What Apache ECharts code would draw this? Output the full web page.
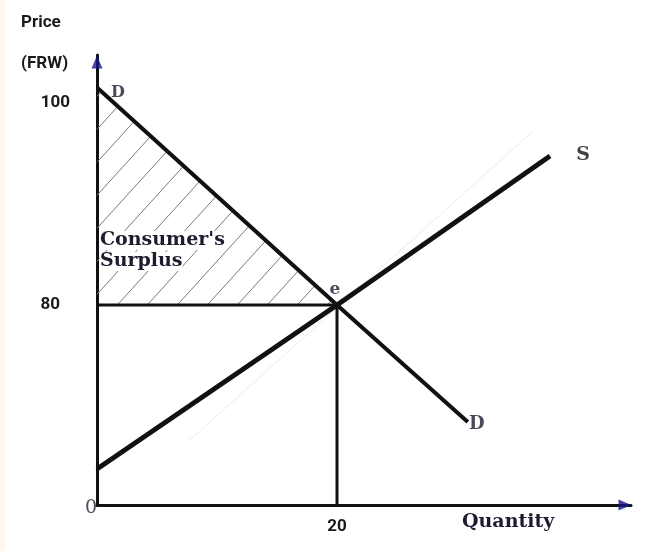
<!DOCTYPE html>
<html>
<head>
<meta charset="utf-8">
<script src="https://cdn.jsdelivr.net/npm/echarts@6/dist/echarts.min.js"></script>
<style>
html,body{margin:0;padding:0;background:#ffffff;}
#chart{width:645px;height:551px;}
</style>
</head>
<body>
<div id="chart"></div>
<script>
// Schematic diagram: quantity axis and (schematic) price axis in diagram units
const demandCurve = [[0, 167], [20, 80], [30.9, 33.2]];
const supplyCurve = [[0, 14.4], [20, 80], [37.75, 139.6]];
const equilibrium = [20, 80];
const faintGuide = [[7.75, 26], [36.25, 149.2]];
const quantityTickValues = [20];
const quantityTickLabels = ['20'];
const priceTickValues = [80, 161];
const priceTickLabels = ['80', '100'];
const xMax = 44.5;
const yMax = 180;

const serif = '"DejaVu Serif", "Liberation Serif", serif';
const sans = 'Roboto, "Noto Sans", sans-serif';
const ink = '#111111';
const labelInk = '#1c1c30';

const chart = echarts.init(document.getElementById('chart'));

function hatchRender(params, api) {
  const A = api.coord(demandCurve[0]);
  const B = api.coord([0, equilibrium[1]]);
  const C = api.coord(equilibrium);
  const k = 1.1, step = 30;
  const tri = [A, B, C];
  const children = [];
  const H = B[1] - A[1];
  for (let c = B[0] - H / k + 8; c < C[0]; c += step) {
    const P0 = [c, B[1]], d = [1, -k];
    const ss = [];
    for (let i = 0; i < 3; i++) {
      const P = tri[i], Q = tri[(i + 1) % 3];
      const e = [Q[0] - P[0], Q[1] - P[1]];
      const den = d[0] * (-e[1]) - d[1] * (-e[0]);
      if (Math.abs(den) < 1e-9) continue;
      const rx = P[0] - P0[0], ry = P[1] - P0[1];
      const s = (rx * (-e[1]) - ry * (-e[0])) / den;
      const t = (d[0] * ry - d[1] * rx) / den;
      if (t >= -1e-6 && t <= 1 + 1e-6) ss.push(s);
    }
    if (ss.length < 2) continue;
    const s1 = Math.min(...ss), s2 = Math.max(...ss);
    if (s2 - s1 < 1) continue;
    children.push({
      type: 'line',
      shape: { x1: P0[0] + s1 * d[0], y1: P0[1] + s1 * d[1], x2: P0[0] + s2 * d[0], y2: P0[1] + s2 * d[1] },
      style: { stroke: '#7a7a7a', lineWidth: 1 }
    });
  }
  return { type: 'group', children: children };
}

const option = {
  backgroundColor: '#ffffff',
  animation: false,
  grid: { left: 97, top: 55, width: 534, height: 450, containLabel: false },
  xAxis: {
    type: 'value', min: 0, max: xMax,
    splitLine: { show: false },
    axisTick: { show: false },
    axisLine: { lineStyle: { color: ink, width: 3 } },
    axisLabel: {
      customValues: quantityTickValues,
      formatter: v => quantityTickLabels[quantityTickValues.indexOf(v)] || '',
      margin: 13, color: '#1a1a1a', fontFamily: sans, fontWeight: 'bold', fontSize: 17
    }
  },
  yAxis: {
    type: 'value', min: 0, max: yMax,
    splitLine: { show: false },
    axisTick: { show: false },
    axisLine: { lineStyle: { color: ink, width: 3 } },
    axisLabel: {
      customValues: priceTickValues,
      formatter: v => {
        const i = priceTickValues.indexOf(v);
        return i === 0 ? '{b|' + priceTickLabels[i] + '}' : '{a|' + priceTickLabels[i] + '}';
      },
      margin: 27,
      rich: {
        a: { color: '#1a1a1a', fontFamily: sans, fontWeight: 'bold', fontSize: 17 },
        b: { color: '#1a1a1a', fontFamily: sans, fontWeight: 'bold', fontSize: 17, padding: [0, 10, 0, 0] }
      }
    }
  },
  graphic: [
    { type: 'rect', left: 0, top: 0, shape: { width: 5, height: 551 }, style: { fill: '#fdf8ea' }, z: -1 },
    { type: 'text', left: 21, top: 14, z: 10, style: { text: 'Price', fill: '#1a1a1a', font: 'bold 17px ' + sans } },
    { type: 'text', left: 21, top: 55, z: 10, style: { text: '(FRW)', fill: '#1a1a1a', font: 'bold 17px ' + sans } },
    { type: 'text', left: 462, top: 513, z: 10, style: { text: 'Quantity', fill: labelInk, font: 'bold 19px ' + serif } },
    { type: 'text', left: 100, top: 231, z: 10, style: { text: "Consumer's", fill: labelInk, font: 'bold 19px ' + serif, backgroundColor: '#ffffff' } },
    { type: 'text', left: 100, top: 252, z: 10, style: { text: 'Surplus', fill: labelInk, font: 'bold 19px ' + serif, backgroundColor: '#ffffff' } }
  ],
  series: [
    { type: 'custom', name: 'hatch', renderItem: hatchRender, data: [0], z: 1, silent: true, clip: false },
    {
      type: 'line', name: 'guide', data: faintGuide, symbol: 'none', z: 1,
      lineStyle: { color: '#ececec', width: 1 }, silent: true
    },
    {
      type: 'line', name: 'Demand', data: demandCurve, symbol: 'none', z: 3,
      lineStyle: { color: ink, width: 4 }
    },
    {
      type: 'line', name: 'Supply', data: supplyCurve, symbol: 'none', z: 3,
      lineStyle: { color: ink, width: 5 }
    },
    {
      type: 'line', name: 'priceLevel', data: [[0, equilibrium[1]], equilibrium], symbol: 'none', z: 3,
      lineStyle: { color: ink, width: 3 }
    },
    {
      type: 'line', name: 'qtyLevel', data: [[equilibrium[0], 0], equilibrium], symbol: 'none', z: 3,
      lineStyle: { color: ink, width: 3 }
    },
    {
      type: 'scatter', name: 'labels', z: 5, symbolSize: 0, clip: false, silent: true,
      label: { show: true, color: labelInk, fontFamily: serif, fontWeight: 'bold', fontSize: 16 },
      data: [
        { value: demandCurve[0], label: { formatter: 'D', offset: [21, 5], fontSize: 16 } },
        { value: demandCurve[demandCurve.length - 1], label: { formatter: 'D', offset: [9, 2], fontSize: 18 } },
        { value: supplyCurve[supplyCurve.length - 1], label: { formatter: 'S', offset: [33, -1], fontSize: 19, color: '#111111' } },
        { value: equilibrium, label: { formatter: 'e', offset: [-2, -15], fontSize: 17 } },
        { value: [0, 0], label: { formatter: '0', offset: [-6, 3], fontWeight: 'normal', fontSize: 19, color: '#222233' } }
      ]
    },
    {
      type: 'scatter', name: 'arrows', z: 6, clip: false, silent: true,
      itemStyle: { color: '#16168a' },
      data: [
        { value: [xMax, 0], symbol: 'triangle', symbolRotate: -90, symbolSize: [11, 13], symbolOffset: [-6, 0] },
        { value: [0, yMax], symbol: 'triangle', symbolSize: [11, 13], symbolOffset: [0, 7] }
      ]
    }
  ]
};
chart.setOption(option);
</script>
</body>
</html>
